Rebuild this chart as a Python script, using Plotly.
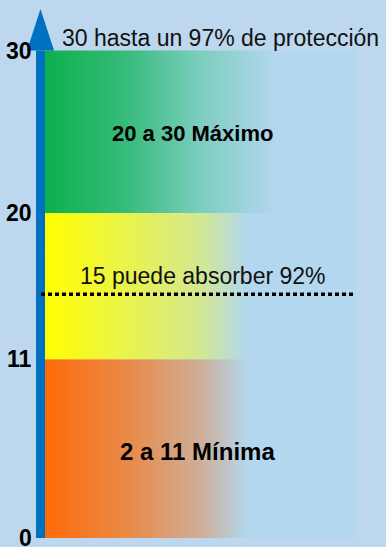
import plotly.graph_objects as go

# ---- data ----
levels = [0, 11, 20, 30]            # SPF scale boundaries
tick_labels = ["0", "11", "20", "30"]
band_names = ["2 a 11 Mínima", "", "20 a 30 Máximo"]
band_colors = [
    [[0, "#ff6a08"], [0.28, "#e88c4c"], [0.5, "#cfae98"], [0.65, "#b3d7ef"], [1, "#b3d7ef"]],
    [[0, "#ffff00"], [0.28, "#e8f250"], [0.5, "#d3e891"], [0.65, "#b3d7ef"], [1, "#b3d7ef"]],
    [[0, "#0cb04e"], [0.25, "#34bb78"], [0.5, "#7ccdbf"], [0.74, "#b3d7ef"], [1, "#b3d7ef"]],
]
mark_value = 15
mark_text = "15 puede absorber 92%"
top_text = "30 hasta un 97% de protección"

BG = "#bdd7ee"
FONT = "Liberation Sans, Arial, sans-serif"

fig = go.Figure()

x0, x1 = 45, 356
for i in range(3):
    lo, hi = levels[i], levels[i + 1]
    fig.add_trace(go.Scatter(
        x=[x0, x1, x1, x0, x0], y=[lo, lo, hi, hi, lo],
        mode="lines", line=dict(width=0), fill="toself",
        fillgradient=dict(type="horizontal", colorscale=band_colors[i]),
        hoverinfo="skip", showlegend=False))

# arrow shaft
fig.add_trace(go.Scatter(
    x=[40.5, 40.5], y=[levels[0], levels[-1]], mode="lines",
    line=dict(color="#0070c0", width=9), hoverinfo="skip", showlegend=False))
# arrow head
fig.add_trace(go.Scatter(
    x=[27, 54, 40.5, 27], y=[levels[-1], levels[-1], levels[-1] + 2.55, levels[-1]],
    mode="lines", line=dict(width=0, color="#0070c0"), fill="toself",
    fillcolor="#0070c0", hoverinfo="skip", showlegend=False))

# dotted line
fig.add_trace(go.Scatter(
    x=[41, 356], y=[mark_value, mark_value], mode="lines",
    line=dict(color="black", width=3.5, dash="4px,3px"),
    hoverinfo="skip", showlegend=False))

# tick labels
for v, t in zip(levels, tick_labels):
    fig.add_annotation(x=34, y=v, text=t, showarrow=False, xanchor="right",
                       yanchor="middle",
                       font=dict(family=FONT, size=23, color="black", weight="bold"))

# texts
fig.add_annotation(x=220, y=30.75, text=top_text, showarrow=False,
                   font=dict(family=FONT, size=23, color="#111111"))
fig.add_annotation(x=203, y=16.1, text=mark_text, showarrow=False,
                   font=dict(family=FONT, size=23, color="#111111"))
fig.add_annotation(x=192, y=24.9, text=band_names[2], showarrow=False,
                   font=dict(family=FONT, size=22, color="black", weight="bold"))
fig.add_annotation(x=197, y=5.3, text=band_names[0], showarrow=False,
                   font=dict(family=FONT, size=24, color="black", weight="bold"))

fig.update_layout(
    width=386, height=547, margin=dict(l=0, r=0, t=0, b=0),
    paper_bgcolor=BG, plot_bgcolor=BG, showlegend=False,
    xaxis=dict(range=[0, 386], visible=False, fixedrange=True),
    yaxis=dict(range=[-0.554, 33.108], visible=False, fixedrange=True),
)
fig.write_html("out.html")
